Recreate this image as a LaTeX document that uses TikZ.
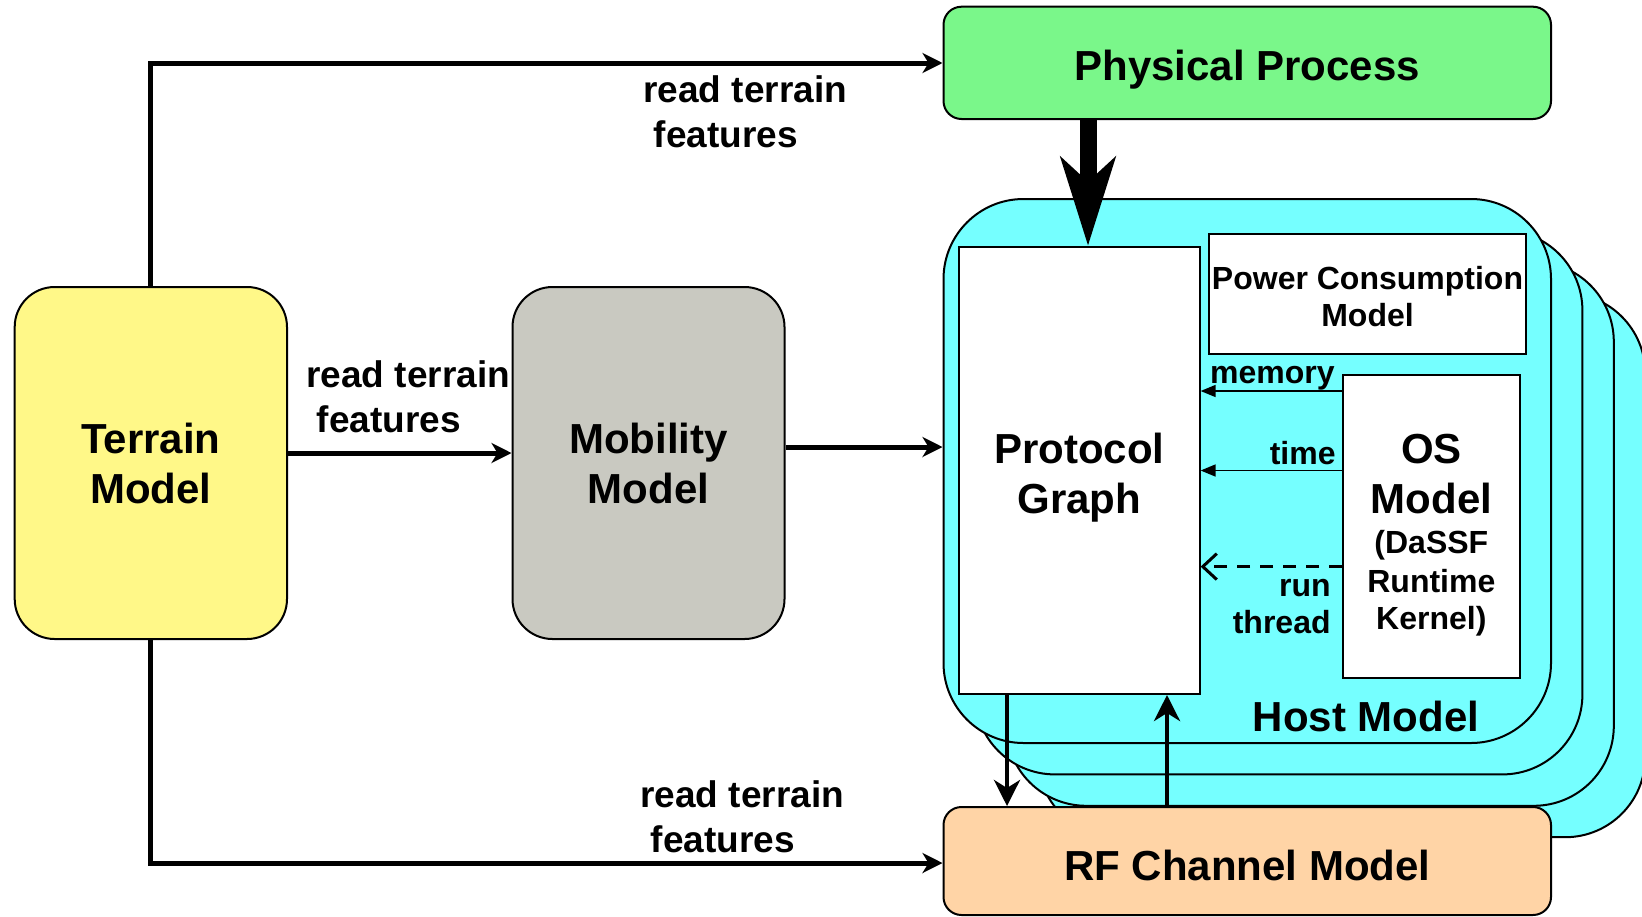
\documentclass[tikz,border=0pt]{standalone}
\usepackage{fontspec}
\setmainfont{Liberation Sans}
\usetikzlibrary{arrows.meta}
\definecolor{cGreen}{HTML}{7AF78A}
\definecolor{cYellow}{HTML}{FFF888}
\definecolor{cGray}{HTML}{C9C9C1}
\definecolor{cPeach}{HTML}{FFD4A6}
\definecolor{cCyan}{HTML}{75FFFF}
\newcommand\FBig{\fontsize{21pt}{25pt}\selectfont\bfseries}
\newcommand\FLab{\fontsize{18.5pt}{22.5pt}\selectfont\bfseries}
\newcommand\FSmall{\fontsize{16pt}{18.5pt}\selectfont\bfseries}
\begin{document}
\begin{tikzpicture}[x=0.5pt,y=-0.5pt,
  box/.style={draw=black, line width=1pt, inner sep=0pt, align=center, font=\FBig},
  card/.style={box, fill=cCyan, rounded corners=40pt, minimum width=303.75pt, minimum height=272pt},
  txt/.style={inner sep=0pt, align=center, font=\FBig},
  lab/.style={inner sep=0pt, align=left, font=\FLab},
  slab/.style={inner sep=0pt, font=\FSmall},
  bigarrow/.style={line width=2.5pt, -{Stealth[length=10pt,width=10pt,inset=3pt]}},
  midarrow/.style={line width=2.25pt, -{Stealth[length=13pt,width=13pt,inset=4pt]}},
  thinarrow/.style={line width=0.75pt, -{Triangle[length=7.5pt,width=6pt]}},
  runarrow/.style={line width=1.5pt, dash pattern=on 6.5pt off 5pt, -{Straight Barb[length=7pt,width=13pt]}}
]
\useasboundingbox (0,0) rectangle (1642,916);

% host model stack
\node[card] (card3) at (1341.45,565.2) {};
\node[card] (card2) at (1310.05,533.8) {};
\node[card] (card1) at (1278.65,502.4) {};
\node[card] (host) at (1247.25,471) {};
\node[txt] (hostlbl) at (1366,716) {Host Model};

% boxes
\node[box, fill=cYellow, rounded corners=20pt, minimum width=136.15pt, minimum height=176pt] (terrain) at (150.85,463) {Terrain\\Model};
\node[box, fill=cGray, rounded corners=20pt, minimum width=136pt, minimum height=176pt] (mob) at (648.5,463) {Mobility\\Model};
\node[box, fill=cGreen, rounded corners=9pt, minimum width=303.75pt, minimum height=56.15pt, text height=18pt, text depth=0pt] (phys) at (1247.25,62.85) {Physical Process};
\node[box, fill=cPeach, rounded corners=9pt, minimum width=303.75pt, minimum height=54pt, text height=20pt] (rf) at (1247.25,861) {RF Channel Model};
\node[box, fill=white, minimum width=120.4pt, minimum height=223.5pt] (proto) at (1079.2,470.5) {};
\node[txt] (prototxt) at (1079.2,478) {Protocol\\Graph};
\node[box, fill=white, minimum width=158.9pt, minimum height=60pt] (power) at (1367.5,294) {};
\node[txt, font=\FSmall] (powertxt) at (1367.5,297) {Power Consumption\\Model};
\node[box, fill=white, minimum width=88.35pt, minimum height=151.3pt] (os) at (1431.35,526.7) {};
\node[txt, font=\FSmall] (ostxt) at (1431.35,535)
  {\FBig OS\\[6.5pt]\FBig Model\\[1.75pt]\FSmall (DaSSF\\[1pt]\FSmall Runtime\\\FSmall Kernel)};

% helper coordinates
\coordinate (ytop) at (0,63);
\coordinate (ytm) at (0,453);
\coordinate (ymh) at (0,447);
\coordinate (ybot) at (0,863);
\coordinate (xpa) at (1088,0);
\coordinate (xdn) at (1007,0);
\coordinate (xup) at (1167,0);
\coordinate (ymem) at (0,391);
\coordinate (ytime) at (0,470.5);
\coordinate (yrun) at (0,566.6);

% connectors
\draw[bigarrow] (terrain.north) |- (phys.west |- ytop);
\draw[bigarrow] (terrain.east |- ytm) -- (mob.west |- ytm);
\draw[bigarrow] (mob.east |- ymh) -- (host.west |- ymh);
\draw[bigarrow] (terrain.south) |- (rf.west |- ybot);
\draw[line width=8.5pt, -{Stealth[length=44pt,width=27pt,inset=12pt]}] (phys.south -| xpa) -- (proto.north -| xpa);
\draw[midarrow] (proto.south -| xdn) -- (rf.north -| xdn);
\draw[midarrow] (rf.north -| xup) -- (proto.south -| xup);
\draw[thinarrow] (os.west |- ymem) -- (proto.east |- ymem);
\draw[thinarrow] (os.west |- ytime) -- (proto.east |- ytime);
\draw[runarrow] (os.west |- yrun) -- (proto.east |- yrun);

% labels
\node[lab, anchor=west] (l1) at (643,112) {read terrain\\\hspace*{0.278em}features};
\node[lab, anchor=west] (l2) at (306,397) {read terrain\\\hspace*{0.278em}features};
\node[lab, anchor=west] (l3) at (640,817) {read terrain\\\hspace*{0.278em}features};
\node[slab, anchor=base east] (lmem) at (1335,383) {memory};
\node[slab, anchor=base east] (ltime) at (1336,464) {time};
\node[slab, anchor=east, align=right] (lrun) at (1331,607) {run\\thread};
\end{tikzpicture}
\end{document}
